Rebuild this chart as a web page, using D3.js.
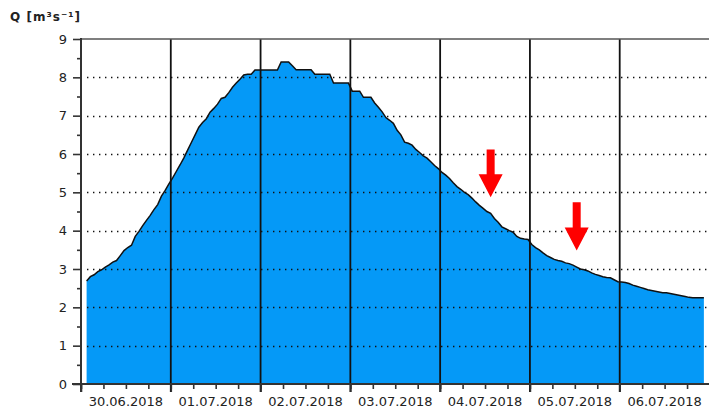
<!DOCTYPE html>
<html><head><meta charset="utf-8">
<script src="https://cdn.jsdelivr.net/npm/d3@7"></script>
<style>
html,body{margin:0;padding:0;background:#fff;}
svg{display:block;}
text{font-family:"DejaVu Sans",Verdana,sans-serif;fill:#222;}
</style></head>
<body>
<svg id="chart" width="709" height="411"></svg>
<script>
// ---- data ----
const seriesStart = "2018-06-30T01:30:00Z"; // first hourly reading
const flow = [
2.69,2.80,2.85,2.93,2.98,3.05,3.11,3.18,3.22,3.35,
3.48,3.56,3.62,3.85,3.98,4.13,4.27,4.40,4.55,4.68,
4.90,5.05,5.22,5.38,5.55,5.72,5.90,6.10,6.30,6.50,
6.70,6.82,6.92,7.09,7.19,7.30,7.45,7.48,7.60,7.74,
7.85,7.95,8.06,8.08,8.08,8.19,8.19,8.19,8.19,8.19,
8.19,8.19,8.40,8.40,8.40,8.30,8.20,8.20,8.20,8.20,
8.20,8.08,8.08,8.08,8.08,8.08,7.85,7.85,7.85,7.85,
7.85,7.64,7.64,7.64,7.48,7.48,7.48,7.33,7.22,7.10,
6.95,6.88,6.80,6.62,6.50,6.31,6.28,6.23,6.12,6.04,
5.95,5.89,5.80,5.70,5.62,5.52,5.45,5.36,5.25,5.15,
5.08,5.00,4.94,4.85,4.75,4.66,4.58,4.50,4.45,4.32,
4.22,4.10,4.05,4.00,3.96,3.85,3.80,3.78,3.77,3.64,
3.56,3.50,3.42,3.35,3.30,3.25,3.22,3.20,3.16,3.14,
3.10,3.05,3.00,2.98,2.95,2.90,2.86,2.83,2.80,2.78,
2.77,2.72,2.67,2.66,2.65,2.62,2.58,2.55,2.52,2.49,
2.46,2.44,2.42,2.40,2.38,2.38,2.36,2.34,2.32,2.30,
2.28,2.26,2.25,2.25,2.25,2.25
];
const yTicks = [0,1,2,3,4,5,6,7,8,9];
const yMinorTicks = [0.5,1.5,2.5,3.5,4.5,5.5,6.5,7.5,8.5];
const dayLabels = ["30.06.2018","01.07.2018","02.07.2018","03.07.2018","04.07.2018","05.07.2018","06.07.2018"];
const xDomain = ["2018-06-30T00:00:00Z","2018-07-06T23:36:00Z"];
const yLabel = "Q [m³s⁻¹]";
const arrowTimes = ["2018-07-04T13:30:00Z","2018-07-05T12:30:00Z"];
const arrowTops = [6.12, 4.74];
const arrowTips = [4.87, 3.48];

// ---- build ----
const t0 = new Date(seriesStart).getTime();
const data = flow.map((v,i)=>({t:new Date(t0 + i*3600e3), v}));

const svg = d3.select("#chart");
const L = 81, R = 708, T = 39, B = 384;
const x = d3.scaleUtc().domain(xDomain.map(d=>new Date(d))).range([L, R]);
const y = d3.scaleLinear().domain([0,9]).range([B, T]);

// area
const area = d3.area().curve(d3.curveLinear)
  .x(d=>x(d.t)).y0(y(0)).y1(d=>y(d.v));
svg.append("path").datum(data).attr("d", area).attr("fill","#0599f7");

// dotted grid
svg.append("g").selectAll("line").data(yTicks.filter(d=>d>0 && d<9)).join("line")
  .attr("x1", L+6).attr("x2", R+1)
  .attr("y1", d=>Math.round(y(d))+0.5).attr("y2", d=>Math.round(y(d))+0.5)
  .attr("stroke","#111").attr("stroke-width",1.4).attr("stroke-dasharray","1.4,4.6");

// line on top
const line = d3.line().curve(d3.curveLinear).x(d=>x(d.t)).y(d=>y(d.v));
svg.append("path").datum(data).attr("d", line)
  .attr("fill","none").attr("stroke","#111").attr("stroke-width",1.5);

// day lines
const days = d3.utcDay.range(new Date("2018-07-01T00:00:00Z"), new Date("2018-07-07T00:00:00Z"));
svg.append("g").selectAll("line").data(days).join("line")
  .attr("x1", d=>x(d)).attr("x2", d=>x(d))
  .attr("y1", T).attr("y2", B+8)
  .attr("stroke","#111").attr("stroke-width",1.8);

// top border
svg.append("line").attr("x1",L).attr("x2",709).attr("y1",T).attr("y2",T)
  .attr("stroke","#555").attr("stroke-width",1.5);

// y axis
const yAxis = d3.axisLeft(y).tickValues(yTicks).tickSize(8).tickPadding(6).tickFormat(d3.format("d"));
const gy = svg.append("g").attr("transform",`translate(${L},0)`).call(yAxis);
gy.select(".domain").remove();
gy.selectAll(".tick line").attr("stroke","#333").attr("stroke-width",1.6);
gy.selectAll(".tick text").attr("font-size",13).attr("font-family","DejaVu Sans, sans-serif").attr("fill","#222");
const gym = svg.append("g").attr("transform",`translate(${L},0)`)
  .call(d3.axisLeft(y).tickValues(yMinorTicks).tickSize(4).tickFormat(""));
gym.select(".domain").remove();
gym.selectAll(".tick line").attr("stroke","#333").attr("stroke-width",1.6);
svg.append("line").attr("x1",L).attr("x2",L).attr("y1",T-1).attr("y2",B+8)
  .attr("stroke","#333").attr("stroke-width",2);

// x axis
const gxm = svg.append("g").attr("transform",`translate(0,${B})`)
  .call(d3.axisBottom(x).ticks(d3.utcHour.every(6)).tickSize(5).tickFormat(""));
gxm.select(".domain").remove();
gxm.selectAll(".tick line").attr("stroke","#333").attr("stroke-width",1.6);
const gxM = svg.append("g").attr("transform",`translate(0,${B})`)
  .call(d3.axisBottom(x).ticks(d3.utcDay.every(1)).tickSize(8).tickFormat(""));
gxM.select(".domain").remove();
gxM.selectAll(".tick line").attr("stroke","#333").attr("stroke-width",1.6);
svg.append("line").attr("x1",L-9).attr("x2",709).attr("y1",B).attr("y2",B)
  .attr("stroke","#333").attr("stroke-width",2);

const noons = d3.utcDay.range(new Date(xDomain[0]), new Date("2018-07-07T00:00:00Z"))
  .map(d=>d3.utcHour.offset(d,12));
svg.append("g").selectAll("text").data(noons).join("text")
  .attr("x", d=>x(d)).attr("y", 406).attr("text-anchor","middle")
  .attr("font-size",13).text((d,i)=>dayLabels[i]);

// y label
svg.append("text").attr("x",10).attr("y",21).attr("font-size",12).attr("font-weight","bold")
  .attr("textLength",70).attr("lengthAdjust","spacing").text(yLabel);

// arrows
const arrows = arrowTimes.map((t,i)=>({t:new Date(t), top:arrowTops[i], tip:arrowTips[i]}));
svg.append("g").selectAll("path").data(arrows).join("path")
  .attr("fill","#ff0000")
  .attr("d", d=>{
    const cx = x(d.t), yt = y(d.top), yp = y(d.tip);
    const hh = 23, sw = 4, hw = 12, ys = yp - hh;
    return `M${cx-sw},${yt}L${cx+sw},${yt}L${cx+sw},${ys}L${cx+hw},${ys}L${cx},${yp}L${cx-hw},${ys}L${cx-sw},${ys}Z`;
  });
</script>
</body></html>
